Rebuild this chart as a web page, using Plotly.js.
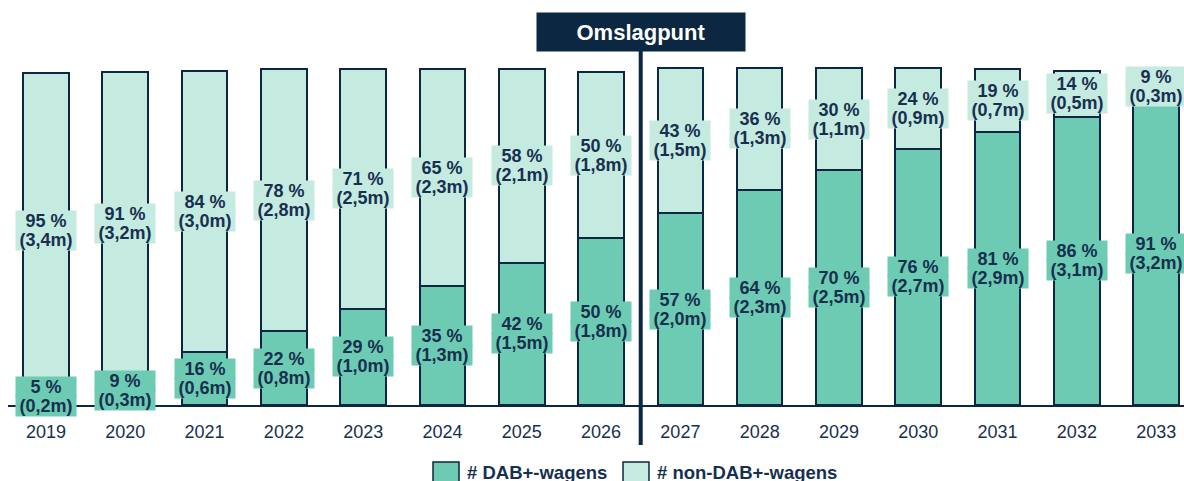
<!DOCTYPE html>
<html>
<head>
<meta charset="utf-8">
<script src="https://cdn.plot.ly/plotly-3.0.1.min.js"></script>
<style>
  html, body { margin: 0; padding: 0; background: #fff; }
  #grafica { width: 1184px; height: 481px; }
</style>
</head>
<body>
<div id="grafica"></div>
<script>
// Jaren
const jaren = ['2019','2020','2021','2022','2023','2024','2025','2026','2027','2028','2029','2030','2031','2032','2033'];

// Aantal wagens in miljoenen
const dab    = [0.18, 0.32, 0.57, 0.79, 1.03, 1.27, 1.52, 1.78, 2.05, 2.30, 2.51, 2.74, 2.92, 3.08, 3.24];
const nonDab = [3.37, 3.24, 3.00, 2.80, 2.56, 2.32, 2.07, 1.78, 1.55, 1.30, 1.09, 0.86, 0.67, 0.49, 0.32];

// Labels
const dabPct = [5, 9, 16, 22, 29, 35, 42, 50, 57, 64, 70, 76, 81, 86, 91];
const dabM   = ['0,2','0,3','0,6','0,8','1,0','1,3','1,5','1,8','2,0','2,3','2,5','2,7','2,9','3,1','3,2'];
const nonPct = [95, 91, 84, 78, 71, 65, 58, 50, 43, 36, 30, 24, 19, 14, 9];
const nonM   = ['3,4','3,2','3,0','2,8','2,5','2,3','2,1','1,8','1,5','1,3','1,1','0,9','0,7','0,5','0,3'];

const omslagJaar = 7.5; // tussen 2026 en 2027

const navy = '#0B2742';
const tekst = '#17304F';
const groen = '#6DCBB3';
const lichtGroen = '#C5EAE0';
const fontFam = 'Liberation Sans, Arial, sans-serif';

// pixel -> paper helpers (marges l=8, r=0, t=40, b=76)
const W = 1184, H = 481, ML = 8, MR = 0, MT = 40, MB = 76;
const px = x => (x - ML) / (W - ML - MR);
const py = y => (H - MB - y) / (H - MT - MB);

const trace1 = {
    x: jaren.map((j, i) => i),
    y: dab,
    type: 'bar',
    name: '# DAB+-wagens',
    marker: { color: groen, line: { color: navy, width: 2 } },
    hoverinfo: 'skip'
};
const trace2 = {
    x: jaren.map((j, i) => i),
    y: nonDab,
    type: 'bar',
    name: '# non-DAB+-wagens',
    marker: { color: lichtGroen, line: { color: navy, width: 2 } },
    hoverinfo: 'skip'
};

const annotations = [];
// label in twee regels, krap op elkaar zoals in het origineel
function label(x, y, regel1, regel2, kleur) {
    const basis = {
        x: x, y: y, xref: 'x', yref: 'y', showarrow: false,
        bgcolor: kleur, borderpad: 0, width: 60, height: 20,
        font: { family: fontFam, size: 18, color: tekst, weight: 'bold' }
    };
    annotations.push(Object.assign({}, basis, { text: regel1, yshift: 9.5 }));
    annotations.push(Object.assign({}, basis, { text: regel2, yshift: -9.5 }));
}
jaren.forEach((j, i) => {
    label(i, dab[i] / 2, `${dabPct[i]} %`, `(${dabM[i]}m)`, groen);
    label(i, dab[i] + nonDab[i] / 2, `${nonPct[i]} %`, `(${nonM[i]}m)`, lichtGroen);
});

// Omslagpunt
annotations.push({
    x: omslagJaar, xref: 'x', y: py(32), yref: 'paper', yanchor: 'middle',
    text: '<b>Omslagpunt</b>', showarrow: false,
    bgcolor: navy, width: 208, height: 38, borderpad: 0,
    font: { family: fontFam, size: 22, color: '#ffffff' }
});

// Handmatige legenda
annotations.push({
    x: px(465), y: py(472), xref: 'paper', yref: 'paper', xanchor: 'left', yanchor: 'middle',
    text: '<b># DAB+-wagens</b>', showarrow: false,
    font: { family: fontFam, size: 18.5, color: tekst }
});
annotations.push({
    x: px(655), y: py(472), xref: 'paper', yref: 'paper', xanchor: 'left', yanchor: 'middle',
    text: '<b># non-DAB+-wagens</b>', showarrow: false,
    font: { family: fontFam, size: 18.5, color: tekst }
});

const shapes = [
    {
        type: 'line', xref: 'x', yref: 'paper',
        x0: omslagJaar, x1: omslagJaar, y0: py(445), y1: py(50),
        line: { color: navy, width: 4 }
    },
    {
        type: 'rect', xref: 'paper', yref: 'paper',
        x0: px(433), x1: px(459), y0: py(486), y1: py(462),
        fillcolor: groen, line: { color: navy, width: 1.5 }
    },
    {
        type: 'rect', xref: 'paper', yref: 'paper',
        x0: px(623), x1: px(649), y0: py(486), y1: py(462),
        fillcolor: lichtGroen, line: { color: navy, width: 1.5 }
    }
];

const layout = {
    width: W, height: H,
    margin: { l: ML, r: MR, t: MT, b: MB },
    barmode: 'stack',
    bargap: 0.425,
    showlegend: false,
    paper_bgcolor: '#ffffff',
    plot_bgcolor: '#ffffff',
    font: { family: fontFam, color: tekst },
    xaxis: {
        range: [-0.479, 14.351],
        tickmode: 'array',
        tickvals: jaren.map((j, i) => i),
        ticktext: jaren,
        tickfont: { family: fontFam, size: 18, color: tekst },
        ticks: '',
        ticklabelstandoff: 9,
        showline: true, linecolor: navy, linewidth: 2,
        showgrid: false, zeroline: false, fixedrange: true
    },
    yaxis: {
        range: [0, 3.9],
        showticklabels: false, showgrid: false, zeroline: false,
        showline: false, fixedrange: true
    },
    annotations: annotations,
    shapes: shapes
};

Plotly.newPlot('grafica', [trace1, trace2], layout, { displayModeBar: false, staticPlot: true });
</script>
</body>
</html>
